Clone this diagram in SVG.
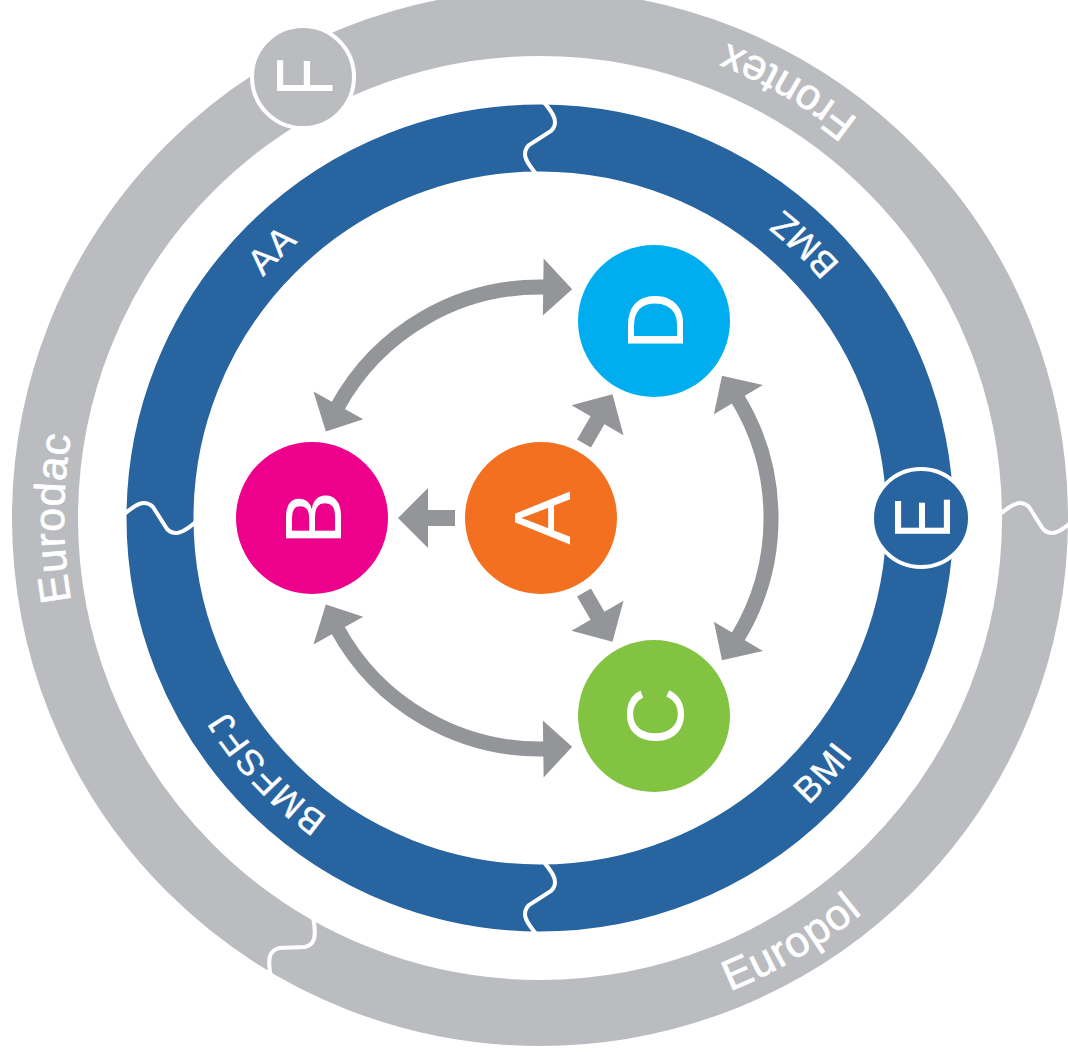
<svg xmlns="http://www.w3.org/2000/svg" width="1068" height="1058" viewBox="0 0 1068 1058">
<style>
.ring-blue{fill:none;stroke:#2764a0;stroke-width:67}
.ring-gray{fill:none;stroke:#bbbcc0;stroke-width:66}
.div{fill:none;stroke:#fff;stroke-width:4;stroke-linecap:round}
.lbl-b{font-family:"Liberation Sans",Arial,sans-serif;font-size:36px;fill:#fff;stroke:#fff;stroke-width:0.4px;letter-spacing:1.5px}
.lbl-g{font-family:"Liberation Sans",Arial,sans-serif;font-size:43px;fill:#fff;stroke:#fff;stroke-width:0.7px;letter-spacing:1px}
.letter{font-family:"Liberation Sans",Arial,sans-serif;font-size:80px;fill:#fff;text-anchor:middle}
.arrow{fill:#939598}
.shaft{fill:none;stroke:#939598;stroke-width:15}
</style>
<defs>
<path id="divider" d="M2,-38 C8,-31 15,-23 15,-16 C15,-12 13,-9 11,-7 L-11,7 C-13,9 -15,12 -15,16 C-15,23 -8,31 -2,38"/>
<path id="bl" d="M540,885 A367,367 0 0 1 540,151"/>
<path id="br" d="M540,911 A393,393 0 0 0 540,125"/>
<path id="gl" d="M540,994 A476,476 0 0 1 540,42"/>
<path id="gr" d="M540,1028 A510,510 0 0 0 540,8"/>
<polygon id="sarrow" points="86,-8 113,-8 113,-30 143,0 113,30 113,8 86,8"/>
<g id="carrow">
<path class="shaft" d="M197.0,-120.7 A231,231 0 0 1 197.0,120.7"/>
<polygon class="arrow" points="182.0,142.2 222.9,132.9 173.9,103.7"/>
<polygon class="arrow" points="182.0,-142.2 222.9,-132.9 173.9,-103.7"/>
</g>
</defs>
<rect width="1068" height="1058" fill="#fff"/>

<g id="ring-gray">
<circle class="ring-gray" cx="540" cy="518" r="495"/>
<use href="#divider" class="div" transform="translate(1036,518) rotate(90)"/>
<use href="#divider" class="div" transform="translate(292,947.5) rotate(210)"/>
<text class="lbl-g"><textPath href="#gl" startOffset="50%" text-anchor="middle">Eurodac</textPath></text>
<text class="lbl-g"><textPath href="#gr" startOffset="83.3%" text-anchor="middle">Frontex</textPath></text>
<text class="lbl-g"><textPath href="#gr" startOffset="17%" text-anchor="middle">Europol</textPath></text>
</g>

<g id="ring-blue">
<circle class="ring-blue" cx="540" cy="518" r="380"/>
<use href="#divider" class="div" transform="translate(540,138)"/>
<use href="#divider" class="div" transform="translate(160,518) rotate(-90)"/>
<use href="#divider" class="div" transform="translate(540,898) rotate(180)"/>
<text class="lbl-b"><textPath href="#bl" startOffset="75%" text-anchor="middle">AA</textPath></text>
<text class="lbl-b"><textPath href="#bl" startOffset="26.1%" text-anchor="middle">BMFSFJ</textPath></text>
<text class="lbl-b"><textPath href="#br" startOffset="75.6%" text-anchor="middle">BMZ</textPath></text>
<text class="lbl-b"><textPath href="#br" startOffset="26.7%" text-anchor="middle">BMI</textPath></text>
</g>

<g id="connectors">
<use href="#sarrow" class="arrow" transform="translate(541,518) rotate(180)"/>
<use href="#sarrow" class="arrow" transform="translate(541,518) rotate(-60)"/>
<use href="#sarrow" class="arrow" transform="translate(541,518) rotate(60)"/>
<use href="#carrow" transform="translate(540,518)"/>
<use href="#carrow" transform="translate(540,518) rotate(-120)"/>
<use href="#carrow" transform="translate(540,518) rotate(120)"/>
</g>

<g id="node-A">
<circle cx="541" cy="518" r="76" fill="#f37021"/>
<text class="letter" transform="translate(570,518) rotate(-90)">A</text>
</g>
<g id="node-B">
<circle cx="312" cy="518" r="76" fill="#ec008c"/>
<text class="letter" transform="translate(341,518) rotate(-90)">B</text>
</g>
<g id="node-C">
<circle cx="654" cy="716" r="76" fill="#82c341"/>
<text class="letter" transform="translate(683,716) rotate(-90)">C</text>
</g>
<g id="node-D">
<circle cx="654" cy="321" r="76" fill="#00aeef"/>
<text class="letter" transform="translate(683,321) rotate(-90)">D</text>
</g>
<g id="node-E">
<circle cx="921" cy="518" r="49" fill="#2764a0" stroke="#fff" stroke-width="4"/>
<text class="letter" transform="translate(950,518) rotate(-90) scale(0.78,1)">E</text>
</g>
<g id="node-F">
<circle cx="303" cy="77" r="51" fill="#bbbcc0" stroke="#fff" stroke-width="4"/>
<text class="letter" transform="translate(332,77) rotate(-90) scale(0.78,1)">F</text>
</g>
</svg>
